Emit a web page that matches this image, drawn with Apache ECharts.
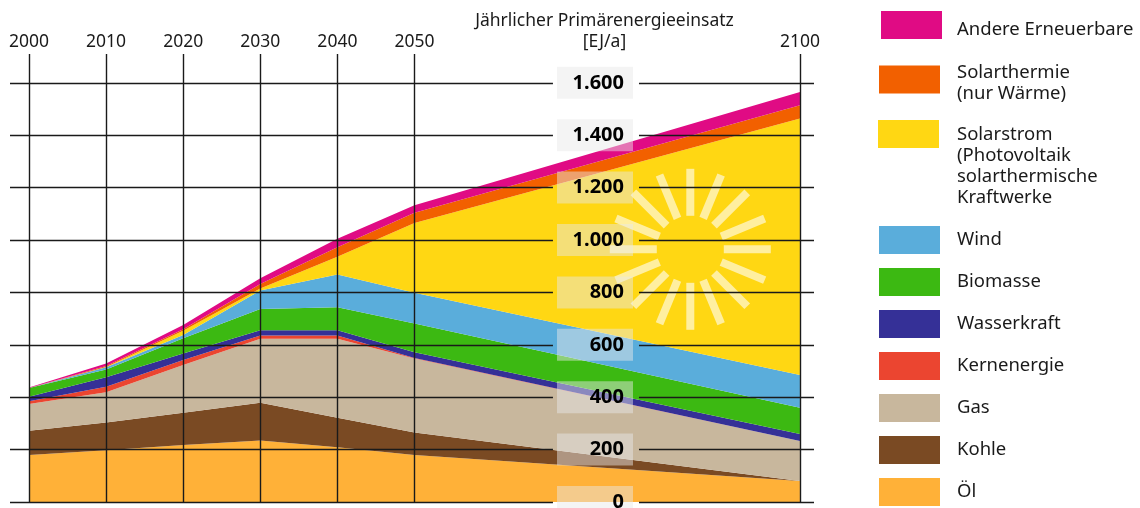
<!DOCTYPE html>
<html lang="de">
	<head>
		<meta charset="UTF-8" />
		<title>Primärenergieeinsatz</title>
		<script src="https://cdn.jsdelivr.net/npm/echarts@6/dist/echarts.min.js"></script>
		<style>
			html, body { margin: 0; padding: 0; background: #fff; overflow: hidden; }
		</style>
	</head>
	<body>
		<div id="main" style="width: 1140px; height: 508px"></div>
		<script type="text/javascript">
			// Data, thickness of each band in EJ/a
			const years = [2000, 2010, 2020, 2030, 2040, 2050, 2100];
			const yTicks = [0, 200, 400, 600, 800, 1000, 1200, 1400, 1600];

			const oel = [179, 198, 218, 235, 209, 179, 80];
			const kohle = [93, 105, 123, 144, 113, 86, 0];
			const gas = [102, 116, 182, 244, 301, 283, 153];
			const kernenergie = [11, 21, 19, 13, 13, 2, 0];
			const wasserkraft = [17, 36, 25, 20, 20, 22, 27];
			const biomasse = [33, 30, 58, 81, 87, 109, 100];
			const wind = [0, 8, 12, 70, 125, 118, 125];
			const solarstrom = [0, 1, 17, 8, 68, 266, 979];
			const solarthermie = [0, 4, 5, 17, 36, 39, 50];
			const andere = [2, 10, 17, 22, 33, 29, 51];

			// bottom to top, the order of the stack
			const bands = [
				{ name: "Öl", values: oel, color: "#FFB138" },
				{ name: "Kohle", values: kohle, color: "#7A4A23" },
				{ name: "Gas", values: gas, color: "#C8B79D" },
				{ name: "Kernenergie", values: kernenergie, color: "#EB4530" },
				{ name: "Wasserkraft", values: wasserkraft, color: "#353097" },
				{ name: "Biomasse", values: biomasse, color: "#3CB912" },
				{ name: "Wind", values: wind, color: "#5AADDB" },
				{ name: "Solarstrom\n(Photovoltaik\nsolarthermische\nKraftwerke", values: solarstrom, color: "#FFD713" },
				{ name: "Solarthermie\n(nur Wärme)", values: solarthermie, color: "#F26000" },
				{ name: "Andere Erneuerbare", values: andere, color: "#E00B84" },
			];

			const fontName = '"Noto Sans", sans-serif';
			const inkColor = "#1a1a1a";
			const gridColor = "#1a1a1a";

			// axis runs a little past the data so the rules overhang
			const xMin = 1997.536;
			const xMax = 2101.82;
			const yMax = 1710;
			const gapFrom = 2067.96; // hole in the rules for the y labels
			const gapTo = 2079.12;

			// value goes first: with two value axes ECharts stacks the first value column
			const series = bands.map((b) => ({
				name: b.name,
				type: "line",
				stack: "energie",
				symbol: "none",
				z: 2,
				encode: { x: 1, y: 0 },
				lineStyle: { width: 0 },
				itemStyle: { color: b.color },
				areaStyle: { color: b.color, opacity: 1 },
				data: years.map((y, i) => [b.values[i], y]),
			}));

			// rules, as mark lines so that they use the axes
			const rules = [];
			yTicks.forEach((v) => {
				rules.push([{ coord: [xMin, v] }, { coord: [gapFrom, v] }]);
				rules.push([{ coord: [gapTo, v] }, { coord: [xMax, v] }]);
			});
			years.forEach((y) => {
				rules.push([{ coord: [y, 0] }, { coord: [y, yMax] }]);
			});
			series.push({
				name: "rules",
				type: "line",
				z: 4,
				symbol: "none",
				silent: true,
				lineStyle: { width: 0 },
				data: [[2000, 0]],
				markLine: {
					silent: true,
					symbol: "none",
					animation: false,
					label: { show: false },
					lineStyle: { color: gridColor, width: 1.4, type: "solid" },
					data: rules,
				},
			});

			// one legend per row, the swatch sits at the top of a taller icon box
			// so the text of the long rows can hang below it
			const swatchPath = (h) => "path://M0 0H61V28H0Z M0 " + h + "L0.01 " + h + "L0 " + (h - 0.01) + "Z";
			const legendRows = [
				{ i: 9, top: 11, left: 881, box: 38, gap: 10 },
				{ i: 8, top: 62, left: 879, box: 35, gap: 12 },
				{ i: 7, top: 120, left: 878, box: 92, gap: 13 },
				{ i: 6, top: 226, left: 879, box: 28, gap: 12 },
				{ i: 5, top: 268, left: 879, box: 28, gap: 12 },
				{ i: 4, top: 310, left: 879, box: 28, gap: 12 },
				{ i: 3, top: 352, left: 879, box: 28, gap: 12 },
				{ i: 2, top: 394, left: 879, box: 28, gap: 12 },
				{ i: 1, top: 436, left: 879, box: 28, gap: 12 },
				{ i: 0, top: 478, left: 879, box: 28, gap: 12 },
			];
			const legends = legendRows.map((row) => ({
				orient: "vertical",
				left: row.left,
				top: row.top,
				padding: 0,
				selectedMode: false,
				itemWidth: 61,
				itemHeight: row.box,
				data: [{ name: bands[row.i].name, icon: swatchPath(row.box) }],
				textStyle: {
					fontFamily: fontName,
					fontSize: 18.5,
					lineHeight: 21,
					color: inkColor,
					padding: [0, 0, 0, row.gap],
				},
			}));

			// the sun on the yellow band
			const sunX = 690.3;
			const sunY = 249.3;
			const rays = [];
			for (let k = 0; k < 16; k++) {
				const a = (k * Math.PI) / 8;
				rays.push({
					type: "line",
					silent: true,
					z: 3,
					shape: {
						x1: sunX + 33.5 * Math.cos(a),
						y1: sunY + 33.5 * Math.sin(a),
						x2: sunX + 80.5 * Math.cos(a),
						y2: sunY + 80.5 * Math.sin(a),
					},
					style: { stroke: "rgba(255,255,255,0.6)", lineWidth: 8 },
				});
			}

			let options = {
				animation: false,
				backgroundColor: "#fff",
				title: {
					text: "Jährlicher Primärenergieeinsatz\n[EJ/a]",
					left: 604.5,
					top: 11,
					padding: 0,
					textAlign: "center",
					textStyle: {
						fontFamily: fontName,
						fontSize: 17.5,
						fontWeight: "normal",
						lineHeight: 21,
						color: inkColor,
					},
				},
				legend: legends,
				grid: { left: 10, top: 54, width: 804, height: 448, outerBoundsMode: "none" },
				xAxis: {
					type: "value",
					position: "top",
					min: xMin,
					max: xMax,
					axisLine: { show: false },
					axisTick: { show: false },
					splitLine: { show: false },
					axisLabel: {
						customValues: years,
						margin: 3,
						fontFamily: fontName,
						fontSize: 17.5,
						color: inkColor,
						formatter: (v) => String(v),
					},
				},
				yAxis: {
					type: "value",
					min: 0,
					max: yMax,
					interval: 200,
					offset: -623,
					z: 10,
					axisLine: { show: false },
					axisTick: { show: false },
					splitLine: { show: false },
					axisLabel: {
						customValues: yTicks,
						margin: 0,
						width: 67,
						align: "right",
						padding: [3, 9, 3, 0],
						lineHeight: 26,
						backgroundColor: "rgba(232,232,232,0.48)",
						fontFamily: fontName,
						fontSize: 20,
						fontWeight: "bold",
						color: "#000",
						formatter: (v) => String(v).replace(/\B(?=(\d{3})+$)/g, "."),
					},
				},
				graphic: { elements: rays },
				series: series,
			};

			let myChart = echarts.init(document.getElementById("main"));
			myChart.setOption(options);
		</script>
	</body>
</html>
